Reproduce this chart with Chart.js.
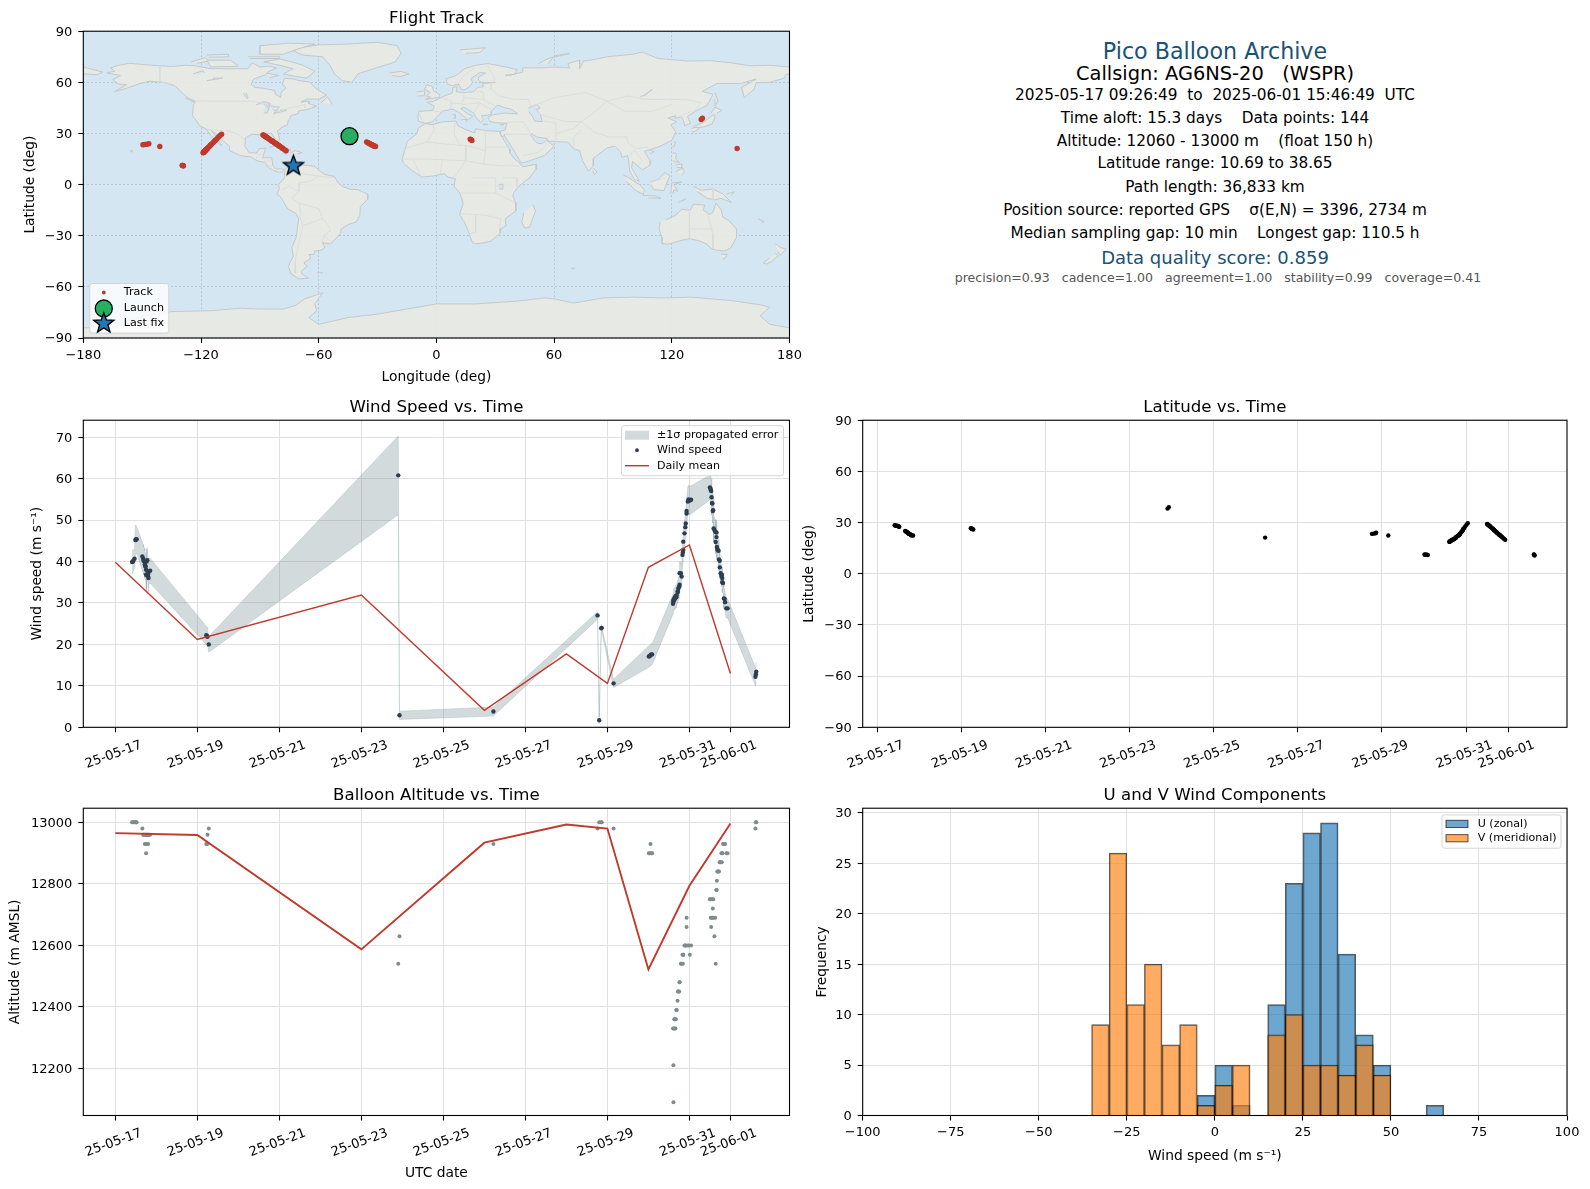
<!DOCTYPE html>
<html><head><meta charset="utf-8">
<style>
html,body{margin:0;padding:0;background:#fff;width:1590px;height:1189px;overflow:hidden}
canvas{position:absolute}
.info{position:absolute;left:1215px;transform:translate(-50%,-50%);white-space:pre;font-family:"DejaVu Sans";line-height:1}
</style>
<script src="https://cdn.jsdelivr.net/npm/chart.js@4/dist/chart.umd.js"></script>
</head><body>
<canvas id="cMap" style="left:0;top:0" width="830" height="390"></canvas>
<canvas id="cWind" style="left:0;top:390px" width="800" height="394"></canvas>
<canvas id="cLat" style="left:800px;top:390px" width="790" height="394"></canvas>
<canvas id="cAlt" style="left:0;top:784px" width="800" height="405"></canvas>
<canvas id="cHist" style="left:800px;top:784px" width="790" height="405"></canvas>
<script>
/* ---------- flight samples ---------- */
const flightDays=[.41,.43,.44,.47,.49,.50,.51,.52,
.66,.68,.69,.71,.72,.73,.74,.75,.75,.76,.77,.78,.80,.80,.81,.82,.85,
2.22,2.24,2.25,2.28,6.90,6.93,9.22,11.76,11.80,11.85,11.86,12.15,
13.01,13.03,13.05,13.07,13.09,
13.60,13.61,13.61,13.62,13.63,13.64,13.65,13.66,13.67,13.68,13.69,13.71,13.72,13.73,13.75,13.76,13.76,13.79,13.81,13.83,13.84,13.85,13.85,13.88,13.90,13.91,13.93,13.93,13.96,13.98,14.01,14.04,
14.50,14.51,14.52,14.53,14.54,14.55,14.56,14.57,14.58,14.59,14.61,14.63,14.64,14.66,14.66,14.67,14.68,14.69,14.71,14.72,14.74,14.74,14.76,14.78,14.79,14.80,14.80,14.82,14.84,14.86,14.87,14.90,14.93,
15.61,15.62,15.63];
const flightWind=[39.9,40.0,40.2,40.7,45.2,45.3,45.3,45.4,
41.2,40.7,40.2,40.0,39.3,38.9,38.8,36.8,38.0,40.0,36.9,40.3,37.0,36.4,36.0,37.6,37.8,
22.2,21.9,21.9,20.0,60.8,2.9,3.8,27.0,1.7,23.9,24.0,10.6,
17.1,17.2,17.4,17.6,17.6,
29.8,30.3,30.6,30.9,30.7,31.3,31.1,31.6,31.7,31.4,31.9,32.7,32.7,33.5,33.9,34.4,37.2,37.2,36.4,41.6,42.2,42.8,44.8,46.8,48.3,49.2,51.6,52.2,54.5,55.0,54.7,54.9,
57.9,57.6,57.3,57.0,55.5,54.1,54.0,52.2,52.4,48.0,47.6,47.2,44.7,47.0,45.9,43.5,43.0,42.8,42.6,40.5,40.2,38.6,37.2,36.5,36.8,36.0,35.0,34.8,31.1,31.0,30.2,28.7,28.7,
12.2,12.8,13.4];
const flightSigma=[2.9,2.9,2.6,2.2,3.5,3.5,3.4,3.3,
3.5,3.4,3.4,3.2,3.3,3.2,3.2,3.9,3.3,3.1,3.5,3.1,3.4,3.3,3.4,3.2,3.0,
2.2,2.3,2.2,1.9,9.5,1.0,1.1,.9,.8,.9,.8,1.0,
2.6,2.6,2.6,2.6,2.5,
2.4,2.5,2.4,2.5,2.5,2.5,2.5,2.6,2.6,2.6,2.6,2.6,2.7,2.7,2.7,2.8,2.8,2.7,2.7,2.7,2.7,2.8,2.8,2.9,2.9,3.0,3.1,3.1,3.4,3.5,3.4,3.4,
3.0,3.0,3.0,3.0,3.0,2.9,2.9,2.9,2.9,3.2,3.0,3.0,2.8,2.9,2.8,2.8,2.7,2.7,2.7,2.7,2.6,2.6,2.5,2.5,2.5,2.5,2.5,2.5,2.4,2.4,2.4,2.3,2.3,
2.2,2.5,2.4];
const flightAlt=[13000,13000,13000,13000,13000,13000,13000,13000,
12980,12960,12960,12960,12930,12960,12960,12900,12930,12960,12960,12960,12930,12960,12960,12960,12960,
12930,12930,12960,12980,12540,12630,12930,12980,13000,13000,13000,12980,
12900,12900,12930,12900,12900,
12330,12090,12210,12330,12360,12330,12360,12330,12360,12390,12390,12420,12450,12450,12450,12480,12480,12540,12540,12570,12540,12570,12570,12600,12600,12600,12690,12660,12600,12600,12570,12600,
12750,12750,12690,12660,12690,12750,12690,12720,12750,12690,12630,12690,12540,12780,12780,12810,12840,12840,12840,12840,12870,12870,12870,12900,12870,12900,12900,12930,12930,12930,12930,12900,12900,
12980,13000,13000];
const flightLat=[28.4,28.3,28.2,28.1,27.9,27.8,27.7,27.5,
25.1,24.8,24.6,24.3,24.1,23.9,23.7,23.5,23.5,23.3,23.2,23.1,22.8,22.7,22.6,22.5,22.4,
26.7,26.5,26.2,25.9,38.2,39.0,21.2,23.4,23.5,23.7,24.0,22.4,
11.3,11.2,11.2,11.1,11.0,
18.7,18.8,18.9,19.0,19.2,19.4,19.6,19.7,19.8,20.0,20.1,20.3,20.5,20.7,21.0,21.3,21.5,22.0,22.3,22.6,22.9,23.2,23.5,24.2,24.8,25.1,25.8,26.2,27.0,27.8,28.8,29.6,
29.2,29.0,28.8,28.6,28.4,28.2,28.0,27.8,27.6,27.3,26.9,26.5,26.2,25.8,25.7,25.5,25.3,25.1,24.6,24.4,24.0,23.9,23.5,23.1,22.9,22.7,22.6,22.3,21.9,21.4,21.2,20.5,19.9,
11.3,11.1,10.7];
const flightLon=[-44.3,-44.0,-43.8,-43.3,-43.0,-42.8,-42.6,-42.4,
-35.6,-35.2,-34.9,-34.4,-34.1,-33.8,-33.5,-33.2,-33.1,-32.9,-32.6,-32.4,-32.0,-31.8,-31.6,-31.3,-31.0,
17.2,17.5,17.8,18.1,135.0,135.6,153.3,-149.6,-148.8,-147.6,-146.6,-141.0,
-129.6,-129.4,-129.3,-129.1,-129.0,
-118.9,-118.8,-118.7,-118.6,-118.5,-118.3,-118.1,-118.0,-118.0,-117.8,-117.7,-117.5,-117.4,-117.2,-116.9,-116.7,-116.5,-116.1,-115.8,-115.6,-115.3,-115.1,-114.8,-114.2,-113.7,-113.5,-112.9,-112.5,-111.8,-111.2,-110.3,-109.5,
-88.4,-88.2,-87.9,-87.6,-87.3,-87.1,-86.9,-86.6,-86.3,-86.0,-85.5,-85.0,-84.6,-84.1,-83.9,-83.6,-83.4,-83.2,-82.6,-82.3,-81.8,-81.6,-81.1,-80.6,-80.4,-80.1,-80.0,-79.7,-79.1,-78.5,-78.2,-77.4,-76.6,
-73.1,-72.9,-72.7];
const launchPoint=[-44.3,28.4];
const lastFixPoint=[-72.9,11.0];
const meanDays=[0,2,6,9,11,12,13,14,15];
const meanWind=[39.8,21.2,31.9,4.1,17.7,10.6,38.6,44.0,13.0];
const meanAlt=[12965,12959,12587,12934,12993,12980,12522,12794,12996];
const dateTickDays=[0,2,4,6,8,10,12,14,15];
const dateTickLabels=["25-05-17","25-05-19","25-05-21","25-05-23","25-05-25","25-05-27","25-05-29","25-05-31","25-06-01"];
const binCenters=[-32.5,-27.5,-22.5,-17.5,-12.5,-7.5,-2.5,2.5,7.5,12.5,17.5,22.5,27.5,32.5,37.5,42.5,47.5,52.5,57.5,62.5];
const histU=[0,0,0,0,0,0,2,5,1,0,11,23,28,29,16,8,5,0,0,1];
const histV=[9,26,11,15,7,9,1,3,5,0,8,10,5,5,4,7,4,0,0,0];
const lonTicks=[-180,-120,-60,0,60,120,180];
const latTicks=[-90,-60,-30,0,30,60,90];
const windTicks=[0,10,20,30,40,50,60,70];
const altTicks=[12200,12400,12600,12800,13000];
const histXTicks=[-100,-75,-50,-25,0,25,50,75,100];
const histYTicks=[0,5,10,15,20,25,30];
const infoLines=[
 ["Pico Balloon Archive",50.7,22.2,"#1a5276",0],
 ["Callsign: AG6NS-20   (WSPR)",74,19.4,"#000",0],
 ["2025-05-17 09:26:49  to  2025-06-01 15:46:49  UTC",95.5,15.3,"#000",0],
 ["Time aloft: 15.3 days    Data points: 144",118.6,15.3,"#000",0],
 ["Altitude: 12060 - 13000 m    (float 150 h)",142,15.3,"#000",0],
 ["Latitude range: 10.69 to 38.65",164.3,15.3,"#000",0],
 ["Path length: 36,833 km",187.6,15.3,"#000",0],
 ["Position source: reported GPS    σ(E,N) = 3396, 2734 m",211,15.3,"#000",0],
 ["Median sampling gap: 10 min    Longest gap: 110.5 h",234,15.3,"#000",0],
 ["Data quality score: 0.859",257.6,18,"#1a5276",0],
 ["precision=0.93   cadence=1.00   agreement=1.00   stability=0.99   coverage=0.41",278,12.55,"#555",3]
];
/* ---------- map outlines, lon,lat pairs ---------- */
const landNorthAmerica=[-168,65.5,-164,66.5,-166,68.5,-162,70,-156.5,71.2,-150,70.5,-141,69.7,-135,69.3,-128,70,-123,69.7,-115,68,-108,68,-100,68,-96,68,-94,71.5,-90,69,-85,69.5,-81.5,68.5,-86,66,-87,64.5,-93,62,-94.5,59,-92.5,57,-88,56.5,-82.5,55.2,-82,52.9,-79.5,51.3,-79,54.5,-76.7,56.5,-78.5,59,-77.5,62.4,-73,62,-70,61,-65,60.3,-64.5,60,-61,56,-56,52.5,-60,50.2,-66,50.2,-69,48.5,-65,49,-65,47.5,-61,46,-66,44,-70,43.5,-70.5,41.7,-74,40.5,-75.5,37.5,-76,35,-78.5,33.8,-81,31.5,-80,26.8,-80.5,25.2,-81.8,26,-82.8,28,-84,30,-89,30.2,-90,29.2,-94,29.6,-97.3,27.5,-97.7,22.5,-95.5,18.7,-91.5,18.5,-90.5,21,-87,21.5,-88,18,-88.7,15.8,-84,15.8,-83.3,11,-81.5,9,-79.5,9.5,-77.3,8.6,-78.2,7.5,-80.5,7.3,-83,8.3,-85.7,10,-87.5,13,-91.5,14,-94.5,16.2,-100,17,-105.5,20,-105.5,22.5,-109,26,-112.5,30,-114.7,31.7,-113,29,-110,24,-109.5,23,-112,25,-115,29,-117.2,32.6,-120.6,34.5,-122.5,37.7,-124.3,40.4,-124,46.3,-122.8,49,-127,51,-130.3,54.7,-133.5,58,-139,60,-146,60.7,-152,59,-158,56.5,-164,54.6,-158,58.7,-162,59,-165,61.5,-161,64,-168,65.5];
const landGreenland=[-73,78.5,-68,80.5,-60,82,-45,82.5,-30,83.5,-20,81.5,-18,77,-21,72,-25,70.5,-32,68,-40,65,-43,60,-48,61,-52,65,-54,69.5,-58,75,-68,76,-73,78.5];
const landBaffin=[-80,73.7,-72,71.5,-68,70,-62,66.5,-66,62.5,-72,63.5,-78,65,-73,68,-80,70,-88,72,-80,73.7];
const landVictoria=[-117,73,-105,73,-101,69.5,-115,69,-117,73];
const landEllesmere=[-90,76.5,-78,76.5,-72,79,-62,82.5,-75,83,-90,81.5,-90,76.5];
const landBanks=[-125,72,-118,74.5,-116,72.5,-122,71.2];
const landDevon=[-96,75,-80,75,-80,74,-95,74];
const landMelville=[-117,76,-106,76.5,-106,75,-116,74.8];
const landSouthampton=[-87,65.5,-80.5,64,-85,62.7];
const landNewfoundland=[-59,47.7,-55.5,51.5,-53,47];
const landVancouver=[-128,50.8,-123.5,48.5,-125,48.6];
const landHawaii=[-156,20,-155,19.9,-155.3,19,-156,19.5];
const landCuba=[-85,22,-80,23.2,-74.2,20.2,-77.7,19.9,-82,22.5];
const landHispaniola=[-74.5,18.5,-72,20,-68.5,18.7,-71,18];
const landJamaica=[-78.3,18.4,-76.3,18.2,-77,17.8];
const landSouthAmerica=[-77.3,8.6,-75.5,10.8,-72,12,-71.5,10.8,-68,11.5,-62,10.7,-60,8.5,-57,6,-52,4.8,-50,1,-48,-1,-44,-2.7,-40,-3,-35.2,-5.5,-35,-8.5,-38.8,-13,-39,-18,-41,-22,-44.5,-23.2,-48.5,-26,-48.8,-28.5,-52,-32.5,-54,-34.8,-58.3,-34,-56.8,-36.5,-58,-38.3,-62,-39,-62.5,-41,-65,-41,-64,-43,-67.5,-46,-66,-48,-69,-51,-68.3,-52.7,-65.2,-54.8,-70,-55.3,-74,-52.5,-75.5,-48,-73,-42,-73.7,-37,-71.5,-31,-70.2,-20,-71.5,-17,-76,-14,-79,-8,-81.3,-5,-80,-2.5,-80.5,0,-78.8,2,-77.5,4,-77.5,7,-77.3,8.6];
const landFalklands=[-61,-51.5,-58,-51.5,-59,-52.3];
const landAfrica=[32.5,31.2,32.5,29.9,33.7,27.5,35.5,24,37.2,21,37.5,18.7,39.5,15.5,43,12,44,10.5,51.2,11.9,50.8,9,47.5,4,42,-1,39.5,-4.5,39,-7,40.5,-10.5,40.5,-15.5,35,-20,35.5,-24,32.8,-26,32.5,-28.5,28,-33,25,-34,20,-34.8,18.3,-34,17,-29.5,14.5,-22.5,11.8,-17.5,13.7,-11,12,-5,9,-1,9.7,3.5,6,4.4,4,6.4,-2,5,-7.5,4.4,-13,8.7,-16.8,12.5,-17.5,14.7,-16.2,20,-14.8,25.5,-10,29.8,-9.3,33,-5.8,35.8,-2,35.2,3,36.8,10,37.3,11,34.5,15,32.3,19.5,30.3,20,32.8,25,31.7,32.5,31.2];
const landEurasia=[-9,37,-9.5,39,-9,43,-2,43.5,-1,46,-4.7,48.3,-1.6,48.7,1.5,50.5,4,52,8,53.7,8.5,57,10.7,57.5,10,54.5,14,54,19,54.5,21,57,24,57.5,23.5,59.3,30,60,23,60,21.5,61,21.5,63,25,65.5,22,65.7,17.5,62,18.5,60,16.5,57,14,55.5,12.7,56,11.2,59,8,58,5.5,59,5,62,10,64,14.5,68,20,70,26,71,31,70,41,67.5,40,64.7,35,64.2,37,64,44,66,44,68.5,54,68.5,60,69,68,68.5,67,71,73,73,73,68,75,72.5,81,73.5,87,75,100,76.5,105,77.7,113,74,128,72.5,140,72.7,150,71.5,160,69.7,170,70,180,69,180,65,178,64.5,177.5,62.5,170,60,163,59.8,162,56,157,51,155.6,57,163,62,155,59.3,143,59.3,135.5,54.7,141,53,138,46.5,132,43,128,40,129.5,36,126.5,34.5,126,37.5,125,39.7,121.5,39,122,40.5,118,39,122.5,37,119.5,35,122,31,120,26,114,22.5,110,21,106,19.5,109,14,109,11.5,105,8.7,100,13.5,99.5,10,103.5,2,101,3,98.5,8,98,14,97.5,17,94.5,16,94,19,91,22.5,87,21.5,80,15.5,80,11,77.5,8,74.5,14,73,20,70,21,67,25,61,25.2,57,25.5,56.5,27,51,28,48.5,30,48,29.5,50,26,51.5,24.2,54,24,56.2,26,60,22.5,55,17,45,13,43,13,39,21,35,28,34.7,29.5,33.8,27.8,32.6,29.9,32.5,31.2,35,32,36,36,30.5,36.3,27.3,37,26.3,39.5,29,41,35,42,41.5,41.5,38,44.5,35,45,33,46,31,46.5,28,43,28,41.3,26,40.7,23,40.5,24,38,22.5,36.5,20,39.5,19,42,14,45.5,12.5,44.5,16,41.5,18.5,40,16,38,12,42,8.5,44.3,3.5,43.3,0,39.5,-2,36.8,-5.5,36,-9,37];
const landChukotkaTip=[-180,69,-175,67.5,-170,66,-173,64.5,-180,65];
const landBritain=[-5.5,50,1.5,51.2,1.7,52.8,-1.5,55,-2,57.6,-5,58.6,-6,56,-3,54,-5,52,-3,51.4,-5.5,50];
const landIreland=[-10,52,-6,52.2,-6,55,-10,54.3];
const landIceland=[-24,65.5,-18,66.4,-14,65,-18.5,63.4,-22.5,64];
const landSvalbard=[12,79,25,80.3,22,77.5,15,77];
const landNovaya=[52,71,57,74,68,77,60,75.5,57,71];
const landSicily=[12.5,38,15.5,38.2,15,36.7];
const landSardinia=[8.3,41,9.7,41,9.5,39,8.5,39];
const landCrete=[23.6,35.6,26.3,35.3,24,35];
const landCyprus=[32.4,35,34.5,35.6,33.5,34.6];
const landSriLanka=[80,9.5,82,7.5,80.5,6,79.8,8];
const landHonshu=[130.9,34,136,36.5,140,40,141.5,41,142,39.5,140.5,35.5,136,33.7,131,33.5];
const landHokkaido=[140,42,142,45.5,145.5,43.5,143,42];
const landKyushu=[130,33,132,33.5,134,34,134,33.3,131.5,31,130.3,31.2];
const landSakhalin=[142,54,143.5,49,142,46,142,50];
const landTaiwan=[121,25,122,25,121,22,120,23];
const landHainan=[109,20,111,19.5,109.5,18.2,108.7,19];
const landLuzon=[120.5,18.5,122.2,18.4,122,15,124,13,120.5,14];
const landMindanao=[122,7.5,125.5,9.7,126.5,7,125,5.8];
const landVisayas=[122,11.5,125,12,125,10,122.5,10];
const landBorneo=[109,1.5,113,3,116.5,7,119,5,117.5,1,116,-3.5,111,-3,109,0];
const landSumatra=[95.3,5.6,98,4,103.5,0,106,-3,105.5,-5.8,101,-3,97,2];
const landJava=[105.3,-6.5,111,-6.5,114.5,-8,108,-7.8];
const landSulawesi=[119.5,-5.5,120,1,125,1.5,121,0,123,-4,121,-3,120.5,-5.5];
const landTimor=[123.5,-10.3,127,-8.4,125,-9.8];
const landNewGuinea=[131,-1,135,-3.3,141,-2.6,146,-5.5,150.5,-10.5,145,-8,142,-9,138,-8,133,-4];
const landNewBritain=[148,-5.5,152,-4.2,150,-6.2];
const landAustralia=[114,-22,113.5,-26,115,-31,115,-34.5,118,-35,124,-33,129,-31.7,134,-33,138,-35,140.5,-38,146.5,-39,150,-37.3,153,-31,153,-26,149,-21,146,-19,145.3,-15,142.5,-10.8,141,-16,139.5,-17.5,136,-15,136.8,-12,131,-11.5,129.5,-15,125,-14.5,122,-18,117,-20.7];
const landTasmania=[145,-40.8,148.2,-41,147,-43.5,146,-43.5];
const landNZNorth=[172.7,-34.5,175.5,-37,178.4,-37.7,175.3,-41.5,174,-39.3];
const landNZSouth=[172.7,-40.5,174.3,-41.7,171,-45,168.5,-46.6,166.5,-46,170,-43];
const landNewCaledonia=[164,-20,167,-22,166,-22];
const landMadagascar=[49.3,-12,50.5,-15.5,47.5,-25,45,-25.5,43.5,-22,44.5,-16.5];
const landKerguelen=[68.5,-49,70.5,-49,69.5,-49.8];
const landAntarctica=[-180,-84,-165,-84,-155,-79,-148,-77,-135,-74.5,-115,-74,-100,-72.5,-90,-73,-78,-73,-72,-71,-67,-67,-58,-63.5,-62,-70,-61,-74,-65,-78,-60,-82,-45,-78,-30,-76,-15,-73,0,-70,20,-70,40,-68.5,55,-66.5,60,-67,70,-69.5,85,-66.5,100,-66,115,-66.5,130,-66,150,-68,165,-70.5,170,-72,165,-77,170,-82,180,-84,180,-90,-180,-90];
const waterCaspian=[47,45,51,47,53,45,51,44,53,41,54,37,50,37.3,49,40,47,43];
const waterSuperior=[-92,46.8,-88,48.7,-85,47.8,-85,46.6,-88,46.8];
const waterMichigan=[-88,42,-86.3,42,-85,45.7,-87,45.5];
const waterHuron=[-84.5,46,-80,45.5,-81.7,43.2,-83.5,44];
const waterEriOntario=[-83,41.6,-79,42.8,-76.5,43.5,-76.5,44,-79.5,43.7,-79,43.2,-83,42.2];
const waterWinnipeg=[-98.5,53.5,-96.5,50.5,-96,51,-97,53.8];
const waterSlave=[-117,61,-109,62.5,-114,62.5];
const waterBear=[-124,65,-119,66.8,-118,65.5];
const waterVictoria=[31.7,0,34,0.3,33.8,-2.7,31.8,-2.5];
const waterBaikal=[104,51.6,106,52.5,110,55.8,109.5,55.5,106,52];
const borderLines=[
[-123,49,-95,49,-89,48,-83,46,-82.5,42.5,-79,43,-75,45,-70,46,-67,47,-67,45],[-117,32.5,-108,31.5,-106.5,31.7,-101,29.5,-97.3,26],[-141,69.7,-141,60.3,-135,59],
[-92,14.5,-91,17.5,-89,17.8],[-88.5,15.8,-87,13],[-83.5,15,-87,13],[-84,11,-86,11],[-83,8.5,-82.5,9.5],
[-52,4,-60,5,-64,2,-70,1,-70,-4,-74,-8,-70,-11,-60,-14,-58,-20,-55,-24,-54,-27,-57.5,-30,-53.5,-33.5],[-70,-18,-68,-24,-70,-33,-72,-45,-72,-52],[-72,12,-72,7,-67,6,-60,5],[-79,-3,-75,-1,-70,-4],[-70,-11,-69,-17,-70,-18],[-68,-24,-63,-22,-58,-20],[-57.5,-30,-58,-34],
[-17,21,-5,25,-1,32,-2,35],[9.5,37,9,30,12,23,15,23,25,20,25,31.7],[25,22,37,22],[-17,15,-5,15,15,14,24,12,34,11,43,11],[12,-5,30,-5,30,4,18,4],[12,-17,25,-18,33,-20,32,-26],[20,-18,20,-28,17,-29],[30,-5,40,-10.5],[34,4,41,4,41,-1.5],[34,-1,30,-1],[2,6,3,15],[15,23,15,14,9,4],[25,20,24,12],[-12,15,-8,5],[-5,25,12,23],
[28,60,28,56,32,52,40,50,47,50,48,46],[49,46,60,51,76,54,87,49,98,52,107,50,117,50,127,50,135,48,131,43],[87,49,96,43,110,43,120,47],[74,37,80,31,88,28,97,28,98,24,102,21,107,22,108,21.5],[44,37,46,34,48,30],[61,25,61,36,54,37.5],[61,30,70,33,74,37],[70,21,70,28,74,32],[35,29.5,47,29.5,48,28],[44,17,52,19,55,22,56,24],[36,36.5,44,37],[53,41,66,37,74,37],[49,46,53,41],[80,42,74,37],[80,42,87,49],[124,40,130,43],
[-1.8,43.3,3,42.5],[2.5,51,8,49,7,44],[7,48,13,47.5,14,51,14,54],[14,51,24,50,30,46],[24,50,24,54,21,55],[13,47,22,48,28,44],[11,59,14,64,20,69],[26,70,30,62,28,60],[98,17,101,20,105,14,103,11],[-9,42,-7,37],[19,42,22,48],
[141,-2.6,141,-9],[117,4,109,1.5],[129,-15,129,-31.7],[138,-16,141,-29,141,-38],[129,-26,141,-26]];

/* ---------- helpers ---------- */
const toPts=a=>{const o=[];for(let i=0;i<a.length;i+=2)o.push({x:a[i],y:a[i+1]});return o};
const zip=(xs,ys)=>xs.map((x,i)=>({x,y:ys[i]}));
const landShapes=[landNorthAmerica,landGreenland,landBaffin,landVictoria,landEllesmere,landBanks,landDevon,landMelville,landSouthampton,landNewfoundland,landVancouver,landHawaii,landCuba,landHispaniola,landJamaica,landSouthAmerica,landFalklands,landAfrica,landEurasia,landChukotkaTip,landBritain,landIreland,landIceland,landSvalbard,landNovaya,landSicily,landSardinia,landCrete,landCyprus,landSriLanka,landHonshu,landHokkaido,landKyushu,landSakhalin,landTaiwan,landHainan,landLuzon,landMindanao,landVisayas,landBorneo,landSumatra,landJava,landSulawesi,landTimor,landNewGuinea,landNewBritain,landAustralia,landTasmania,landNZNorth,landNZSouth,landNewCaledonia,landMadagascar,landKerguelen,landAntarctica];
const waterShapes=[waterCaspian,waterSuperior,waterMichigan,waterHuron,waterEriOntario,waterWinnipeg,waterSlave,waterBear,waterVictoria,waterBaikal];

const FONT='"DejaVu Sans"';
Chart.defaults.font.family=FONT;
Chart.defaults.color='#000';
Chart.defaults.animation=false;
Chart.defaults.responsive=false;

const NAVY='#2c3e50',RED='#c0392b',GRAY='#7f8c8d',OCEAN='#d4e6f1',LAND='rgba(232,232,228,0.93)',COAST='#c3c9cb',BORDER='#d8dadb',GRID='#e0e0e0';
const TITLE_H=23,TICK=13,LABEL=13.8;

/* frame round the plot area, plus optional background and legend */
const framePlugin={id:'frame',
 beforeDraw(c,_,o){if(o.bg){const a=c.chartArea;c.ctx.save();c.ctx.fillStyle=o.bg;c.ctx.fillRect(a.left,a.top,a.width,a.height);c.ctx.restore();}},
 afterDatasetsDraw(c){const a=c.chartArea,x=c.ctx;x.save();x.strokeStyle='#000';x.lineWidth=1.1;x.strokeRect(a.left,a.top,a.width,a.height);x.restore();},
 afterDraw(c,_,o){const l=o.legend;if(!l)return;const a=c.chartArea,x=c.ctx;
  const bx=l.right!=null?a.right-l.right-l.w:a.left+l.left, by=l.bottom!=null?a.bottom-l.bottom-l.h:a.top+l.top;
  x.save();x.fillStyle=l.fill||'rgba(255,255,255,0.8)';x.strokeStyle='#d5d5d5';x.lineWidth=1;
  x.beginPath();x.roundRect(bx,by,l.w,l.h,2.5);x.fill();x.stroke();
  l.items.forEach(it=>{const cy=by+it.dy,hx=bx+l.hx;
    x.save();it.draw(x,hx,cy);x.restore();
    x.fillStyle='#000';x.font=l.size+'px '+FONT;x.textAlign='left';x.textBaseline='middle';x.fillText(it.label,bx+l.tx,cy);});
  x.restore();}
};
Chart.register(framePlugin);

function plotLayout(canvas,plot,yw,xh,titled){
 return {autoPadding:false,padding:{
  left:plot.l-canvas.l-yw,right:canvas.r-plot.r,
  top:plot.t-canvas.t-(titled?TITLE_H:0),bottom:canvas.b-plot.b-xh}};
}
const minus=s=>String(s).replace('-','−');
function axis(o){const horiz=o.h!=null;return {type:'linear',offset:false,min:o.min,max:o.max,
 title:{display:!!o.title,text:o.title,font:{size:LABEL},padding:0,color:'#000'},
 grid:{offset:false,color:o.gridColor||GRID,lineWidth:1,tickColor:'#000',tickLength:5,tickWidth:1.1,drawTicks:true},
 border:{display:false,dash:o.dash||[]},
 afterFit(s){if(o.w!=null)s.width=o.w;if(o.h!=null)s.height=o.h;s.paddingLeft=s.paddingRight=s.paddingTop=s.paddingBottom=0;},
 afterBuildTicks(s){s.ticks=o.ticks.map(v=>({value:v}));},
 ticks:Object.assign({font:{size:TICK},color:'#000',padding:horiz?4.5:6,labelOffset:horiz?0:1,autoSkip:false,maxRotation:0,minRotation:0,
   callback:o.labels?(v,i)=>o.labels[i]:v=>minus(v)},o.tick||{})};
}
function dateAxis(min,max,h,title){return axis({min,max,h,title,ticks:dateTickDays,labels:dateTickLabels,
   tick:{maxRotation:20,minRotation:20,labelOffset:26,padding:5}});}
function title(t){return {display:true,text:t,fullSize:false,color:'#000',font:{size:16.6,weight:'normal',lineHeight:1.2},padding:{top:0,bottom:3}};}

/* star marker canvas */
function starCanvas(R,fill){const s=Math.ceil(2*R+6),k=document.createElement('canvas');k.width=k.height=s;const x=k.getContext('2d');
 drawStar(x,s/2,s/2,R,fill);return k;}
function drawStar(x,cx,cy,R,fill){x.beginPath();for(let i=0;i<10;i++){const r=i%2?R*0.42:R,a=-Math.PI/2+i*Math.PI/5;x[i?'lineTo':'moveTo'](cx+r*Math.cos(a),cy+r*Math.sin(a));}
 x.closePath();x.fillStyle=fill;x.fill();x.strokeStyle='#000';x.lineWidth=1.4;x.stroke();}
function dot(x,cx,cy,r,fill,edge){x.beginPath();x.arc(cx,cy,r,0,7);x.fillStyle=fill;x.fill();if(edge){x.strokeStyle=edge;x.lineWidth=1.3;x.stroke();}}

const polyDs=(a,fill,stroke)=>({data:toPts(a),borderColor:stroke,borderWidth:1,backgroundColor:fill,fill:'shape',pointRadius:0,tension:0,order:20});
const mapGrid='rgba(120,130,135,0.3)';

/* ---------- map ---------- */
new Chart('cMap',{type:'line',
 data:{datasets:[
  {label:'Last fix',data:[{x:lastFixPoint[0],y:lastFixPoint[1]}],showLine:false,pointStyle:starCanvas(10.5,'#1f77b4'),order:1},
  {label:'Launch',data:[{x:launchPoint[0],y:launchPoint[1]}],showLine:false,pointRadius:8.5,backgroundColor:'#27ae60',borderColor:'#000',pointBorderWidth:1.3,order:2},
  {label:'Track',data:zip(flightLon,flightLat),showLine:false,pointRadius:2.7,pointBorderWidth:0,backgroundColor:RED,order:3},
  ...borderLines.map(a=>({data:toPts(a),borderColor:BORDER,borderWidth:.8,pointRadius:0,fill:false,order:10})),
  ...waterShapes.map(a=>polyDs(a,OCEAN,COAST)).map(d=>Object.assign(d,{order:12})),
  ...landShapes.map(a=>polyDs(a,LAND,COAST))
 ]},
 options:{layout:plotLayout({l:0,t:0,r:830,b:390},{l:83.3,t:31.3,r:789.5,b:338},61,47.3,true),
  plugins:{legend:{display:false},title:title('Flight Track'),tooltip:{enabled:false},
   frame:{bg:OCEAN,legend:{left:6.5,bottom:5,w:79,h:49.5,hx:14,tx:34,size:11.1,fill:'rgba(255,255,255,0.8)',items:[
     {label:'Track',dy:9,draw:(x,a,b)=>dot(x,a,b,1.9,RED)},
     {label:'Launch',dy:25,draw:(x,a,b)=>dot(x,a,b,8.5,'#27ae60','#000')},
     {label:'Last fix',dy:40,draw:(x,a,b)=>drawStar(x,a,b,10.5,'#1f77b4')}]}}},
  scales:{x:axis({min:-180,max:180,h:47.3,title:'Longitude (deg)',ticks:lonTicks,gridColor:mapGrid,dash:[2,2]}),
          y:axis({min:-90,max:90,w:61,title:'Latitude (deg)',ticks:latTicks,gridColor:mapGrid,dash:[2,2]})}}
});

/* ---------- wind ---------- */
const BAND='rgba(115,140,145,0.32)';
new Chart('cWind',{type:'line',
 data:{datasets:[
  {label:'upper',data:flightDays.map((d,i)=>({x:d,y:flightWind[i]+flightSigma[i]})),borderColor:'rgba(127,150,155,0.3)',borderWidth:.8,backgroundColor:BAND,fill:'+1',pointRadius:0,order:5,tension:0},
  {label:'lower',data:flightDays.map((d,i)=>({x:d,y:flightWind[i]-flightSigma[i]})),borderColor:'rgba(127,150,155,0.3)',borderWidth:.8,fill:false,pointRadius:0,order:5,tension:0},
  {label:'Wind speed',data:zip(flightDays,flightWind),showLine:false,pointRadius:2.2,pointBorderWidth:0,backgroundColor:NAVY,order:2},
  {label:'Daily mean',data:zip(meanDays,meanWind),borderColor:RED,borderWidth:1.4,pointRadius:0,fill:false,order:1,tension:0}
 ]},
 options:{layout:plotLayout({l:0,t:390,r:800,b:784},{l:83.3,t:420.3,r:789.5,b:727.3},54,56,true),
  plugins:{legend:{display:false},title:title('Wind Speed vs. Time'),tooltip:{enabled:false},
   frame:{legend:{right:6,top:5.5,w:162,h:50,hx:3.5,tx:35.5,size:11.1,items:[
     {label:'±1σ propagated error',dy:9.5,draw:(x,a,b)=>{x.fillStyle=BAND;x.fillRect(a,b-4.5,24,9);}},
     {label:'Wind speed',dy:24.5,draw:(x,a,b)=>dot(x,a+12,b,1.9,NAVY)},
     {label:'Daily mean',dy:40,draw:(x,a,b)=>{x.strokeStyle=RED;x.lineWidth=1.4;x.beginPath();x.moveTo(a,b);x.lineTo(a+24,b);x.stroke();}}]}}},
  scales:{x:dateAxis(-.78,16.44,56),y:axis({min:0,max:74.1,w:54,title:'Wind speed (m s⁻¹)',ticks:windTicks})}}
});

/* ---------- latitude ---------- */
new Chart('cLat',{type:'line',
 data:{datasets:[{label:'Latitude',data:zip(flightDays,flightLat),showLine:false,pointRadius:2.2,pointBorderWidth:0,backgroundColor:'#000'}]},
 options:{layout:plotLayout({l:800,t:390,r:1590,b:784},{l:862.7,t:420.3,r:1567,b:727.3},62,56,true),
  plugins:{legend:{display:false},title:title('Latitude vs. Time'),tooltip:{enabled:false}},
  scales:{x:dateAxis(-.35,16.4,56),y:axis({min:-90,max:90,w:62,title:'Latitude (deg)',ticks:latTicks})}}
});

/* ---------- altitude ---------- */
new Chart('cAlt',{type:'line',
 data:{datasets:[
  {label:'Altitude',data:zip(flightDays,flightAlt),showLine:false,pointRadius:2,pointBorderWidth:0,backgroundColor:GRAY,order:2},
  {label:'Daily mean',data:zip(meanDays,meanAlt),borderColor:RED,borderWidth:1.9,pointRadius:0,fill:false,order:1,tension:0}
 ]},
 options:{layout:plotLayout({l:0,t:784,r:800,b:1189},{l:83.3,t:808.3,r:789.5,b:1115.5},76.5,66,true),
  plugins:{legend:{display:false},title:title('Balloon Altitude vs. Time'),tooltip:{enabled:false}},
  scales:{x:dateAxis(-.78,16.44,66,'UTC date'),y:axis({min:12047,max:13046,w:76.5,title:'Altitude (m AMSL)',ticks:altTicks,tick:{callback:v=>String(v)}})}}
});

/* ---------- histogram ---------- */
const patch=(fill)=>(x,a,b)=>{x.fillStyle=fill;x.strokeStyle='rgba(0,0,0,0.65)';x.fillRect(a,b-3.6,22,7.2);x.strokeRect(a,b-3.6,22,7.2);};
new Chart('cHist',{type:'bar',
 data:{datasets:[
  {label:'U (zonal)',data:zip(binCenters,histU).filter(p=>p.y>0),backgroundColor:'rgba(31,119,180,0.65)',borderColor:'rgba(0,0,0,0.65)',borderWidth:1.1,order:2},
  {label:'V (meridional)',data:zip(binCenters,histV).filter(p=>p.y>0),backgroundColor:'rgba(255,127,14,0.65)',borderColor:'rgba(0,0,0,0.65)',borderWidth:1.1,order:1}
 ]},
 options:{layout:plotLayout({l:800,t:784,r:1590,b:1189},{l:862.7,t:808.3,r:1567,b:1115.5},49,48.8,true),
  datasets:{bar:{grouped:false,barPercentage:1,categoryPercentage:1}},
  plugins:{legend:{display:false},title:title('U and V Wind Components'),tooltip:{enabled:false},
   frame:{legend:{right:6,top:6.7,w:119,h:33.3,hx:4,tx:35.7,size:11.1,items:[
     {label:'U (zonal)',dy:9,draw:patch('rgba(31,119,180,0.65)')},
     {label:'V (meridional)',dy:23.3,draw:patch('rgba(255,127,14,0.65)')}]}}},
  scales:{x:axis({min:-100,max:100,h:48.8,title:'Wind speed (m s⁻¹)',ticks:histXTicks}),y:axis({min:0,max:30.45,w:49,title:'Frequency',ticks:histYTicks})}}
});

/* ---------- text panel ---------- */
infoLines.forEach(([t,y,s,c,dx])=>{const d=document.createElement('div');d.className='info';d.textContent=t;d.style.top=y+'px';d.style.left=(1215+dx)+'px';d.style.fontSize=s+'px';d.style.color=c;document.body.appendChild(d);});
</script>
</body></html>
